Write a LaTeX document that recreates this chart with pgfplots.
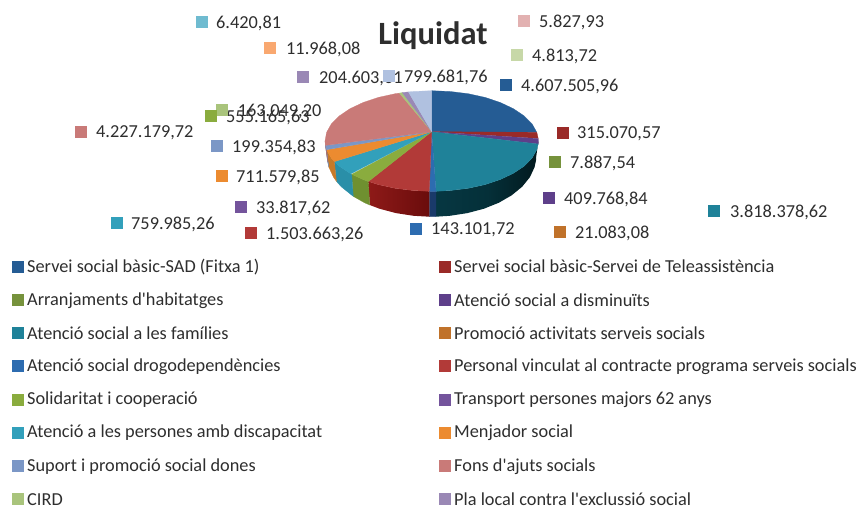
\documentclass[border=0pt]{standalone}
\usepackage{pgfplots}
\pgfplotsset{compat=1.18}
\usepackage{fontspec}
\setmainfont[Ligatures=NoCommon]{Carlito}
\definecolor{tx}{HTML}{2E2E2E}
\definecolor{cA}{HTML}{255C94}
\definecolor{cB}{HTML}{9A2A28}
\definecolor{cC}{HTML}{76923C}
\definecolor{cD}{HTML}{5E3F8A}
\definecolor{cE}{HTML}{1F8299}
\definecolor{cF}{HTML}{C0722A}
\definecolor{cG}{HTML}{2D6CB0}
\definecolor{cH}{HTML}{B23A38}
\definecolor{cI}{HTML}{8AAC3E}
\definecolor{cJ}{HTML}{74549C}
\definecolor{cK}{HTML}{32A0BB}
\definecolor{cL}{HTML}{EC8B30}
\definecolor{cM}{HTML}{7B97C6}
\definecolor{cN}{HTML}{C97A78}
\definecolor{cO}{HTML}{A9C47C}
\definecolor{cP}{HTML}{9A88B5}
\definecolor{cQ}{HTML}{6FBBD0}
\definecolor{cR}{HTML}{F9A870}
\definecolor{cS}{HTML}{C7D8A8}
\definecolor{cT}{HTML}{E2B1B1}
\definecolor{cU}{HTML}{B0C1E0}
\definecolor{wA}{HTML}{063742}
\definecolor{wB}{HTML}{02191E}
\definecolor{wC}{HTML}{053039}
\definecolor{wD}{HTML}{1A3A6A}
\definecolor{wE}{HTML}{8E1A18}
\definecolor{wF}{HTML}{6A0C0C}
\definecolor{wG}{HTML}{6F9030}
\definecolor{wH}{HTML}{2A8FA8}
\definecolor{wI}{HTML}{C87A28}
\definecolor{wJ}{HTML}{6A86B4}
\definecolor{wK}{HTML}{B06A68}
\newcommand\lab[5]{%
 \addplot[only marks, mark=square*, mark size=5.5pt, mark options={draw=#1,fill=#1,line width=0pt}] coordinates {(#2,#3)};
 \node[anchor=west,inner sep=0pt,text=tx,font=\fontsize{18.3}{20}\selectfont] at (axis cs:#4,#3+1) {#5};
}
\newcommand\leg[4]{%
 \addplot[only marks, mark=square*, mark size=5.5pt, mark options={draw=#1,fill=#1,line width=0pt}] coordinates {(#2,#3)};
 \node[anchor=west,inner sep=0pt,text=tx,font=\fontsize{18.3}{20}\selectfont] at (axis cs:#2+9.5,#3) {#4};
}
\newcommand\slice[2]{\addplot[fill=#1,draw=#1,line width=0.25pt] coordinates {#2} --cycle;}
\begin{document}
\begin{tikzpicture}
\useasboundingbox (0,0) rectangle (861pt,506pt);
\begin{axis}[
  at={(0,0)},anchor=south west,
  width=861pt,height=506pt,scale only axis,
  xmin=0,xmax=861,ymin=0,ymax=506,y dir=reverse,
  axis lines=none,clip=false,
]
% side walls
\addplot[draw=none,left color=wA,right color=wB,middle color=wC] coordinates {(538.4,141.0)(538.2,144.0)(536.8,149.7)(532.0,158.2)(524.1,166.2)(513.4,173.3)(500.3,179.5)(485.1,184.6)(468.2,188.3)(450.2,190.5)(436.0,191.3)(435.9,216.7)(449.8,215.8)(467.4,213.1)(484.0,208.7)(498.9,202.7)(511.7,195.3)(522.2,186.7)(529.9,177.2)(534.6,167.1)(536.0,160.3)(536.2,156.7)} --cycle;
\slice{wD}{(436.0,191.3)(429.3,191.3)(429.3,216.7)(435.9,216.7)}
\addplot[draw=none,left color=wE,right color=wF] coordinates {(429.3,191.3)(413.2,190.5)(395.2,188.3)(378.3,184.6)(368.4,181.5)(369.7,205.0)(379.4,208.7)(396.0,213.1)(413.6,215.8)(429.3,216.7)} --cycle;
\slice{wG}{(368.4,181.5)(363.1,179.5)(351.7,174.3)(353.3,196.4)(364.5,202.7)(369.7,205.0)}
\slice{wH}{(351.7,174.3)(350.8,173.8)(339.3,166.2)(334.4,161.6)(336.4,181.3)(341.2,186.7)(352.5,195.8)(353.3,196.4)}
\slice{wI}{(334.4,161.6)(331.4,158.2)(326.6,149.7)(328.8,167.1)(333.5,177.2)(336.4,181.3)}
\slice{wJ}{(326.6,149.7)(325.4,145.4)(327.6,161.9)(328.8,167.1)}
\slice{wK}{(325.4,145.4)(325.0,141.0)(327.2,156.7)(327.6,161.9)}
% top faces
\slice{cA}{(431.7,131.7)(431.7,90.7)(450.2,91.5)(468.2,93.7)(485.1,97.4)(500.3,102.5)(513.4,108.7)(524.1,115.9)(532.0,123.8)(536.8,132.3)}
\slice{cB}{(431.7,131.7)(536.8,132.3)(538.2,138.4)}
\slice{cD}{(431.7,131.7)(538.3,138.6)(538.4,141.0)(538.2,144.0)}
\slice{cE}{(431.7,131.7)(538.2,144.0)(536.8,149.7)(532.0,158.2)(524.1,166.2)(513.4,173.3)(500.3,179.5)(485.1,184.6)(468.2,188.3)(450.2,190.5)(436.0,191.3)}
\slice{cG}{(431.7,131.7)(436.0,191.3)(429.3,191.3)}
\slice{cH}{(431.7,131.7)(429.3,191.3)(413.2,190.5)(395.2,188.3)(378.3,184.6)(368.4,181.5)}
\slice{cI}{(431.7,131.7)(368.4,181.5)(363.1,179.5)(351.7,174.3)}
\slice{cK}{(431.7,131.7)(350.8,173.8)(339.3,166.2)(334.4,161.6)}
\slice{cL}{(431.7,131.7)(334.4,161.6)(331.4,158.2)(326.6,149.7)}
\slice{cM}{(431.7,131.7)(326.6,149.7)(325.4,145.4)}
\slice{cN}{(431.7,131.7)(325.4,145.4)(325.0,141.0)(326.6,132.3)(331.4,123.8)(339.3,115.9)(350.0,108.7)(363.1,102.5)(378.3,97.4)(395.2,93.7)(399.4,93.1)}
\slice{cO}{(431.7,131.7)(399.4,93.1)(402.3,92.6)}
\slice{cP}{(431.7,131.7)(402.3,92.6)(408.4,91.9)}
\slice{cU}{(431.7,131.7)(408.4,91.9)(413.2,91.5)(431.7,90.7)}
% title
\node[text=tx,font=\fontsize{32.5}{36}\bfseries\selectfont,inner sep=0pt] at (axis cs:433,36) {Liquidat};
% data labels
\lab{cQ}{201.7}{22}{216}{6.420,81}
\lab{cR}{270.3}{48.3}{286}{11.968,08}
\lab{cP}{303.3}{77.3}{319}{204.603,61}
\lab{cU}{389.3}{76.3}{404}{799.681,76}
\lab{cO}{222.3}{110.3}{237.7}{163.049,20}
\lab{cI}{211.3}{116.3}{226}{555.165,63}
\lab{cN}{81}{132}{96}{4.227.179,72}
\lab{cM}{217}{146}{232}{199.354,83}
\lab{cL}{222}{176}{236}{711.579,85}
\lab{cJ}{241}{207}{256}{33.817,62}
\lab{cK}{117}{223}{131}{759.985,26}
\lab{cH}{251}{233}{266}{1.503.663,26}
\lab{cG}{416}{229}{431}{143.101,72}
\lab{cF}{560}{232}{575}{21.083,08}
\lab{cE}{714}{211}{730}{3.818.378,62}
\lab{cD}{549}{198}{564}{409.768,84}
\lab{cC}{555}{162}{570}{7.887,54}
\lab{cB}{563}{133}{577}{315.070,57}
\lab{cA}{506}{85}{521}{4.607.505,96}
\lab{cS}{517}{55}{532}{4.813,72}
\lab{cT}{524}{21}{539}{5.827,93}
% legend
\leg{cA}{17.5}{266.7}{Servei social bàsic-SAD (Fitxa 1)}
\leg{cC}{17.5}{300.3}{Arranjaments d\textquotesingle habitatges}
\leg{cE}{17.5}{333.3}{Atenció social a les famílies}
\leg{cG}{17.5}{366.3}{Atenció social drogodependències}
\leg{cI}{17.5}{399.7}{Solidaritat i cooperació}
\leg{cK}{17.5}{433}{Atenció a les persones amb discapacitat}
\leg{cM}{17.5}{466.3}{Suport i promoció social dones}
\leg{cO}{17.5}{499.3}{CIRD}
\leg{cB}{444.5}{266.7}{Servei social bàsic-Servei de Teleassistència}
\leg{cD}{444.5}{300.3}{Atenció social a disminuïts}
\leg{cF}{444.5}{333.3}{Promoció activitats serveis socials}
\leg{cH}{444.5}{366.3}{Personal vinculat al contracte programa serveis socials}
\leg{cJ}{444.5}{399.7}{Transport persones majors 62 anys}
\leg{cL}{444.5}{433}{Menjador social}
\leg{cN}{444.5}{466.3}{Fons d\textquotesingle ajuts socials}
\leg{cP}{444.5}{499.3}{Pla local contra l\textquotesingle exclussió social}
\end{axis}
\end{tikzpicture}
\end{document}
